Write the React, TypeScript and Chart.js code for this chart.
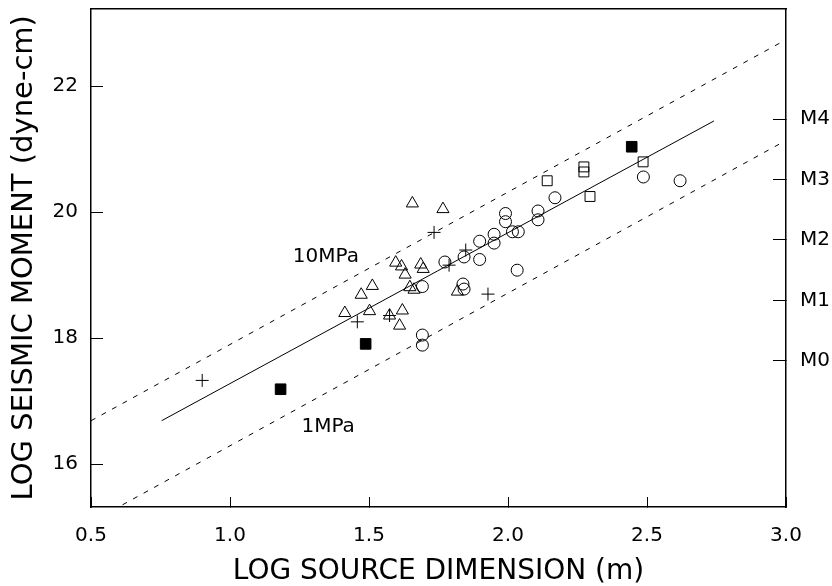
import React, { useEffect, useRef } from 'react';
import { Chart, registerables } from 'chart.js';

Chart.register(...registerables);

const FONT = "'DejaVu Sans', 'Liberation Sans', sans-serif";

// Axis ticks
const xTicks = [0.5, 1.0, 1.5, 2.0, 2.5, 3.0];
const yTicks = [16, 18, 20, 22];
const magTickValues = [21.48, 20.52, 19.56, 18.6, 17.64];
const magTickLabels = ['M4', 'M3', 'M2', 'M1', 'M0'];

// Open triangles
const triangleX = [1.413, 1.472, 1.502, 1.512, 1.574, 1.596, 1.617, 1.63, 1.62, 1.61, 1.647, 1.662, 1.656, 1.766, 1.686, 1.695, 1.818];
const triangleY = [18.4, 18.69, 18.43, 18.83, 18.36, 19.2, 19.14, 19.01, 18.44, 18.2, 18.81, 18.77, 20.14, 20.05, 19.17, 19.1, 18.74];

// Open circles
const circleX = [1.692, 1.692, 1.692, 1.773, 1.842, 1.838, 1.842, 1.898, 1.898, 1.95, 1.95, 1.991, 1.991, 2.016, 2.037, 2.033, 2.108, 2.108, 2.169, 2.487, 2.619];
const circleY = [18.82, 18.05, 17.89, 19.21, 19.29, 18.86, 18.78, 19.54, 19.25, 19.65, 19.51, 19.98, 19.85, 19.69, 19.69, 19.08, 20.02, 19.88, 20.23, 20.56, 20.5];

// Plus signs
const plusX = [0.9, 1.458, 1.574, 1.734, 1.788, 1.848, 1.928];
const plusY = [17.33, 18.26, 18.36, 19.68, 19.16, 19.4, 18.7];

// Open squares
const openSquareX = [2.141, 2.273, 2.273, 2.295, 2.486];
const openSquareY = [20.5, 20.72, 20.64, 20.25, 20.8];

// Filled squares
const filledSquareX = [1.182, 1.488, 2.445];
const filledSquareY = [17.19, 17.91, 21.04];

// Lines
const fitLineX = [0.754, 2.741];
const fitLineY = [16.69, 21.45];
const upperStressX = [0.5, 3.0];
const upperStressY = [16.69, 22.74];
const lowerStressX = [0.5, 3.0];
const lowerStressY = [15.08, 21.14];

// Line labels
const lineLabelText = ['10MPa', '1MPa'];
const lineLabelX = [1.345, 1.353];
const lineLabelY = [19.29, 16.6];

const pts = (xs: number[], ys: number[]) => xs.map((x, i) => ({ x, y: ys[i] }));

const labelPlugin = {
  id: 'lineLabels',
  afterDatasetsDraw(chart: any) {
    const { ctx, scales } = chart;
    ctx.save();
    ctx.fillStyle = '#000';
    ctx.font = `20px ${FONT}`;
    ctx.textAlign = 'center';
    ctx.textBaseline = 'middle';
    lineLabelText.forEach((t, i) => {
      ctx.fillText(t, scales.x.getPixelForValue(lineLabelX[i]), scales.y.getPixelForValue(lineLabelY[i]));
    });
    ctx.restore();
  },
};

const Y_MIN = 15.32;
const Y_MAX = 23.235;

const zeroPad = (s: any) => {
  s.paddingTop = 0;
  s.paddingBottom = 0;
  s.paddingLeft = 0;
  s.paddingRight = 0;
};

export default function App() {
  const ref = useRef<HTMLCanvasElement>(null);
  useEffect(() => {
    if (!ref.current) return;
    const lineDs = (xs: number[], ys: number[], dash: number[]) => ({
      type: 'line' as const,
      data: pts(xs, ys),
      borderColor: '#000',
      borderWidth: 1,
      borderDash: dash,
      pointRadius: 0,
      fill: false,
      tension: 0,
    });
    const markDs = (xs: number[], ys: number[], style: string, r: number, fillC: string) => ({
      type: 'scatter' as const,
      data: pts(xs, ys),
      pointStyle: style,
      pointRadius: r,
      borderColor: '#000',
      backgroundColor: fillC,
      borderWidth: 1,
    });
    const chart = new Chart(ref.current, {
      type: 'scatter',
      data: {
        datasets: [
          lineDs(fitLineX, fitLineY, []),
          lineDs(upperStressX, upperStressY, [5, 7]),
          lineDs(lowerStressX, lowerStressY, [5, 7]),
          markDs(triangleX, triangleY, 'triangle', 7, 'rgba(0,0,0,0)'),
          markDs(circleX, circleY, 'circle', 6, 'rgba(0,0,0,0)'),
          markDs(plusX, plusY, 'cross', 6.5, 'rgba(0,0,0,0)'),
          markDs(openSquareX, openSquareY, 'rect', 7, 'rgba(0,0,0,0)'),
          markDs(filledSquareX, filledSquareY, 'rect', 7.5, '#000'),
        ] as any,
      },
      options: {
        animation: false,
        responsive: false,
        devicePixelRatio: 1,
        layout: { padding: { top: 7, left: 0, right: 0, bottom: 0 } },
        plugins: { legend: { display: false }, tooltip: { enabled: false } },
        scales: {
          x: {
            type: 'linear',
            position: 'bottom',
            min: 0.5,
            max: 3.0,
            afterBuildTicks: (s: any) => { s.ticks = xTicks.map((v) => ({ value: v })); },
            afterFit: (s: any) => { s.height = 79; zeroPad(s); },
            ticks: {
              callback: (v: any) => Number(v).toFixed(1),
              font: { family: FONT, size: 20 },
              color: '#000',
              padding: 27,
              maxRotation: 0,
              autoSkip: false,
            },
            grid: { drawOnChartArea: false, drawTicks: true, tickLength: -10, color: '#000', lineWidth: 1 },
            border: { display: true, color: '#000', width: 1.5 },
            title: {
              display: true,
              text: 'LOG SOURCE DIMENSION (m)',
              font: { family: FONT, size: 28, lineHeight: 1.0 },
              color: '#000',
              padding: { top: 0, bottom: 0 },
            },
          },
          xTop: {
            type: 'linear',
            position: 'top',
            min: 0.5,
            max: 3.0,
            afterFit: (s: any) => { s.height = 0; zeroPad(s); },
            ticks: { display: false },
            grid: { display: false, drawTicks: false },
            border: { display: true, color: '#000', width: 1.5 },
          },
          y: {
            type: 'linear',
            position: 'left',
            min: Y_MIN,
            max: Y_MAX,
            afterBuildTicks: (s: any) => { s.ticks = yTicks.map((v) => ({ value: v })); },
            afterFit: (s: any) => { s.width = 91; zeroPad(s); },
            ticks: {
              font: { family: FONT, size: 20 },
              color: '#000',
              padding: 25,
            },
            grid: { drawOnChartArea: false, drawTicks: true, tickLength: -12, color: '#000', lineWidth: 1 },
            border: { display: true, color: '#000', width: 1.5 },
            title: {
              display: true,
              text: 'LOG SEISMIC MOMENT (dyne-cm)',
              font: { family: FONT, size: 29, lineHeight: 1.0 },
              color: '#000',
              padding: { top: 10, bottom: 0 },
            },
          },
          yMag: {
            type: 'linear',
            position: 'right',
            min: Y_MIN,
            max: Y_MAX,
            afterBuildTicks: (s: any) => { s.ticks = magTickValues.map((v) => ({ value: v })); },
            afterFit: (s: any) => { s.width = 46; zeroPad(s); },
            ticks: {
              callback: (v: any) => {
                const i = magTickValues.findIndex((m) => Math.abs(m - Number(v)) < 1e-6);
                return i >= 0 ? magTickLabels[i] : '';
              },
              font: { family: FONT, size: 20 },
              color: '#000',
              padding: 27,
            },
            grid: { drawOnChartArea: false, drawTicks: true, tickLength: -13, color: '#000', lineWidth: 1 },
            border: { display: true, color: '#000', width: 1.5 },
          },
        },
      } as any,
      plugins: [labelPlugin],
    });
    return () => chart.destroy();
  }, []);
  return (
    <div style={{ position: 'absolute', left: 0, top: 0, width: 832, height: 586, background: '#fff' }}>
      <canvas ref={ref} width={832} height={586} style={{ display: 'block' }} />
    </div>
  );
}
